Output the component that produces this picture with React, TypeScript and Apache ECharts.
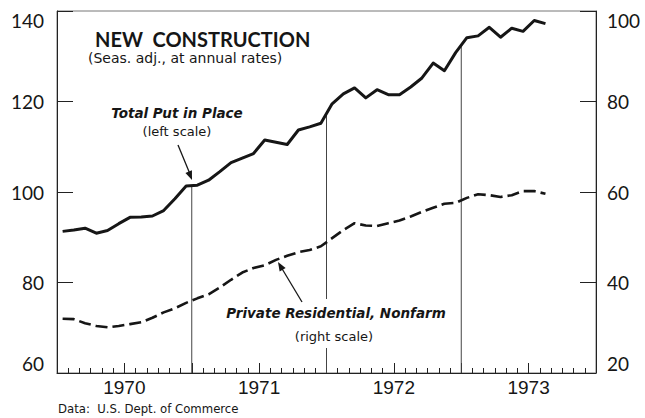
import React, { useEffect, useRef } from "react";
import * as echarts from "echarts";

// Monthly data, Jan 1970 – Aug 1973
const totalPutInPlace = [
  91.3, 91.6, 92.0, 90.9, 91.5, 93.0, 94.4, 94.5, 94.7, 95.9, 98.5, 101.3,
  101.5, 102.6, 104.5, 106.5, 107.5, 108.5, 111.5, 111.0, 110.5, 113.7, 114.4, 115.2,
  119.5, 121.7, 123.0, 120.8, 122.6, 121.5, 121.5, 123.2, 125.2, 128.5, 126.8, 130.8,
  134.1, 134.5, 136.4, 134.2, 136.2, 135.5, 137.9, 137.2,
];
const privateResidential = [
  32.0, 31.9, 31.0, 30.4, 30.1, 30.4, 30.8, 31.2, 32.2, 33.4, 34.3, 35.5,
  36.5, 37.4, 38.9, 40.6, 42.2, 43.2, 43.8, 45.0, 45.9, 46.7, 47.2, 48.0,
  49.8, 51.6, 53.1, 52.6, 52.5, 53.1, 53.7, 54.6, 55.6, 56.5, 57.4, 57.6,
  58.7, 59.5, 59.3, 58.9, 59.3, 60.2, 60.2, 59.6,
];
const years = ["1970", "1971", "1972", "1973"];
const yearBoundaries = [12, 24, 36];
const leftTicks = { min: 60, max: 140, step: 20 };
const rightTicks = { min: 20, max: 100, step: 20 };

function arrowHead(tx: number, ty: number, fx: number, fy: number, len = 9, half = 3.5) {
  const dx = tx - fx, dy = ty - fy;
  const l = Math.hypot(dx, dy);
  const ux = dx / l, uy = dy / l;
  const bx = tx - ux * len, by = ty - uy * len;
  const px = -uy * half, py = ux * half;
  return [[tx, ty], [bx + px, by + py], [bx - px, by - py]];
}

export default function App() {
  const ref = useRef<HTMLDivElement>(null);
  useEffect(() => {
    if (!ref.current) return;
    const chart = echarts.init(ref.current, undefined, { renderer: "svg" });
    const ink = "#161616";
    const labelFont = "'DejaVu Sans', sans-serif";
    const totalData = totalPutInPlace.map((v, i) => [i + 0.5, v]);
    const resData = privateResidential.map((v, i) => [i + 0.5, v]);
    const dropSeries = yearBoundaries.map((b) => {
      const top = (totalPutInPlace[b - 1] + totalPutInPlace[b]) / 2;
      return {
        type: "line",
        xAxisIndex: 0,
        yAxisIndex: 0,
        data: [[b, leftTicks.min], [b, top]],
        symbol: "none",
        silent: true,
        z: 1,
        lineStyle: { color: "#444", width: 1 },
      };
    });
    const a1 = arrowHead(192, 180, 178, 145);
    const a2 = arrowHead(278, 262, 302, 302);
    const yAxisCommon = {
      type: "value",
      splitLine: { show: false },
      axisLine: { show: true, lineStyle: { color: "#222", width: 1 } },
      axisTick: { show: true, inside: true, length: 16, lineStyle: { color: "#222", width: 1 } },
      axisLabel: {
        color: ink,
        fontSize: 19,
        fontFamily: "Lato",
        verticalAlignMinLabel: "bottom",
        verticalAlignMaxLabel: "top",
      },
    };
    chart.setOption({
      animation: false,
      backgroundColor: "#fff",
      grid: {
        left: 57,
        right: 49,
        top: 11,
        bottom: 45,
        show: true,
        borderColor: "#777",
        borderWidth: 1,
        backgroundColor: "transparent",
      },
      xAxis: [
        {
          type: "value",
          min: 0,
          max: 48,
          interval: 6,
          position: "bottom",
          splitLine: { show: false },
          axisLine: { show: true, lineStyle: { color: "#222", width: 1 } },
          axisTick: { show: true, inside: true, length: 10, lineStyle: { color: "#222", width: 1 } },
          minorTick: { show: true, splitNumber: 6, length: 5, lineStyle: { color: "#222", width: 1 } },
          minorSplitLine: { show: false },
          axisLabel: {
            show: true,
            margin: 5,
            color: ink,
            fontSize: 19,
            fontFamily: "Liberation Sans",
            showMinLabel: true,
            showMaxLabel: true,
            formatter: (v: number) => {
              if (v % 12 === 6) return years[(v - 6) / 12] ?? "";
              return "";
            },
          },
        },
      ],
      yAxis: [
        { ...yAxisCommon, position: "left", min: leftTicks.min, max: leftTicks.max, interval: leftTicks.step, axisLabel: { ...yAxisCommon.axisLabel, margin: 13 } },
        { ...yAxisCommon, position: "right", min: rightTicks.min, max: rightTicks.max, interval: rightTicks.step, axisLabel: { ...yAxisCommon.axisLabel, margin: 11 } },
      ],
      series: [
        ...dropSeries,
        {
          name: "Total Put in Place",
          type: "line",
          xAxisIndex: 0,
          yAxisIndex: 0,
          data: totalData,
          symbol: "none",
          z: 3,
          lineStyle: { color: ink, width: 3, join: "round" },
        },
        {
          name: "Private Residential, Nonfarm",
          type: "line",
          xAxisIndex: 0,
          yAxisIndex: 1,
          data: resData,
          symbol: "none",
          z: 3,
          lineStyle: { color: ink, width: 2.6, type: [12, 5] },
        },
      ],
      graphic: [
        { type: "rect", z: 50, shape: { x: 220, y: 299, width: 236, height: 49 }, style: { fill: "#fff" } },
        { type: "text", z: 60, x: 95, y: 39, style: { text: "NEW  CONSTRUCTION", fontFamily: "Lato", fontWeight: "bold", fontSize: 20, fill: ink, verticalAlign: "middle" } },
        { type: "text", z: 60, x: 88, y: 58, style: { text: "(Seas. adj., at annual rates)", fontFamily: labelFont, fontSize: 14, fill: ink, verticalAlign: "middle" } },
        { type: "text", z: 60, x: 177, y: 113, style: { text: "Total Put in Place", fontFamily: labelFont, fontWeight: "bold", fontStyle: "italic", fontSize: 13.5, fill: ink, align: "center", verticalAlign: "middle" } },
        { type: "text", z: 60, x: 177, y: 131, style: { text: "(left scale)", fontFamily: labelFont, fontSize: 13, fill: ink, align: "center", verticalAlign: "middle" } },
        { type: "text", z: 60, x: 336, y: 313, style: { text: "Private Residential, Nonfarm", fontFamily: labelFont, fontWeight: "bold", fontStyle: "italic", fontSize: 13.5, fill: ink, align: "center", verticalAlign: "middle" } },
        { type: "text", z: 60, x: 334, y: 336, style: { text: "(right scale)", fontFamily: labelFont, fontSize: 13, fill: ink, align: "center", verticalAlign: "middle" } },
        { type: "line", z: 60, shape: { x1: 178, y1: 145, x2: 190, y2: 174 }, style: { stroke: ink, lineWidth: 1.3 } },
        { type: "polygon", z: 60, shape: { points: a1 }, style: { fill: ink } },
        { type: "line", z: 60, shape: { x1: 302, y1: 302, x2: 281, y2: 267 }, style: { stroke: ink, lineWidth: 1.3 } },
        { type: "polygon", z: 60, shape: { points: a2 }, style: { fill: ink } },
        { type: "text", z: 60, x: 58, y: 408, style: { text: "Data:  U.S. Dept. of Commerce", fontFamily: "'Liberation Sans Narrow', 'DejaVu Sans Condensed', sans-serif", fontSize: 13, fill: ink, verticalAlign: "middle" } },
      ],
    });
    return () => chart.dispose();
  }, []);
  return <div ref={ref} style={{ width: 645, height: 418, position: "absolute", left: 0, top: 0 }} />;
}
